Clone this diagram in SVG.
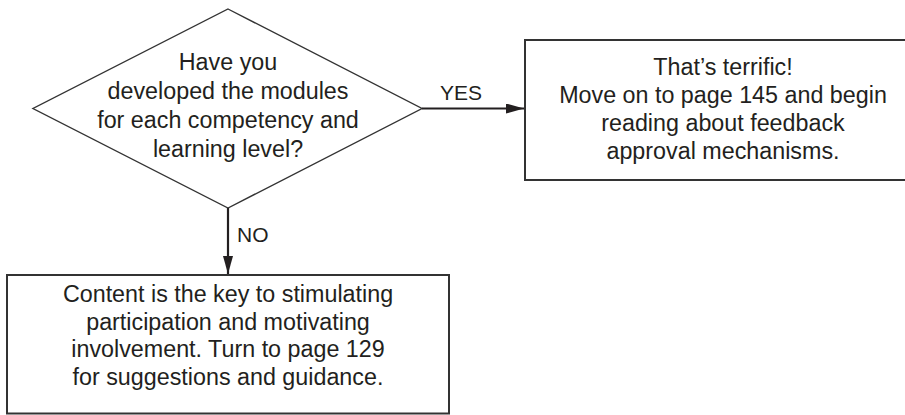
<svg xmlns="http://www.w3.org/2000/svg" width="905" height="415" viewBox="0 0 905 415">
<style>
.t{font-family:"Liberation Sans",Arial,sans-serif;font-size:23.3px;fill:#231f20;text-anchor:middle}
.l{font-family:"Liberation Sans",Arial,sans-serif;font-size:21px;fill:#231f20}
.box{fill:#fff;stroke:#333;stroke-width:2}
.dia{fill:#fff;stroke:#333;stroke-width:1.4}
.c{stroke:#231f20;stroke-width:2.2;fill:none}
</style>
<defs>
<marker id="ah" markerWidth="18" markerHeight="10" refX="18" refY="5" orient="auto" markerUnits="userSpaceOnUse">
<path d="M0,0 L18,5 L0,10 Z" fill="#231f20"/>
</marker>
</defs>
<g id="decision">
<polygon class="dia" points="228,9 422,108.5 228,208 33,108.5"/>
<text class="t" x="228" y="70">Have you</text>
<text class="t" x="228" y="99">developed the modules</text>
<text class="t" x="228" y="128">for each competency and</text>
<text class="t" x="228" y="157">learning level?</text>
</g>
<g id="yes-box">
<rect class="box" x="525" y="40" width="390" height="140"/>
<text class="t" x="723" y="75">That’s terrific!</text>
<text class="t" x="723" y="103">Move on to page 145 and begin</text>
<text class="t" x="723" y="131">reading about feedback</text>
<text class="t" x="723" y="159">approval mechanisms.</text>
</g>
<g id="no-box">
<rect class="box" x="7" y="275" width="442" height="138.5"/>
<text class="t" x="228" y="302">Content is the key to stimulating</text>
<text class="t" x="228" y="330">participation and motivating</text>
<text class="t" x="228" y="357">involvement. Turn to page 129</text>
<text class="t" x="228" y="385">for suggestions and guidance.</text>
</g>
<g id="connectors">
<line class="c" x1="422" y1="108.5" x2="524" y2="108.5" marker-end="url(#ah)"/>
<line class="c" x1="228" y1="208" x2="228" y2="274" marker-end="url(#ah)"/>
<text class="l" x="440" y="100">YES</text>
<text class="l" x="237" y="242">NO</text>
</g>
</svg>
